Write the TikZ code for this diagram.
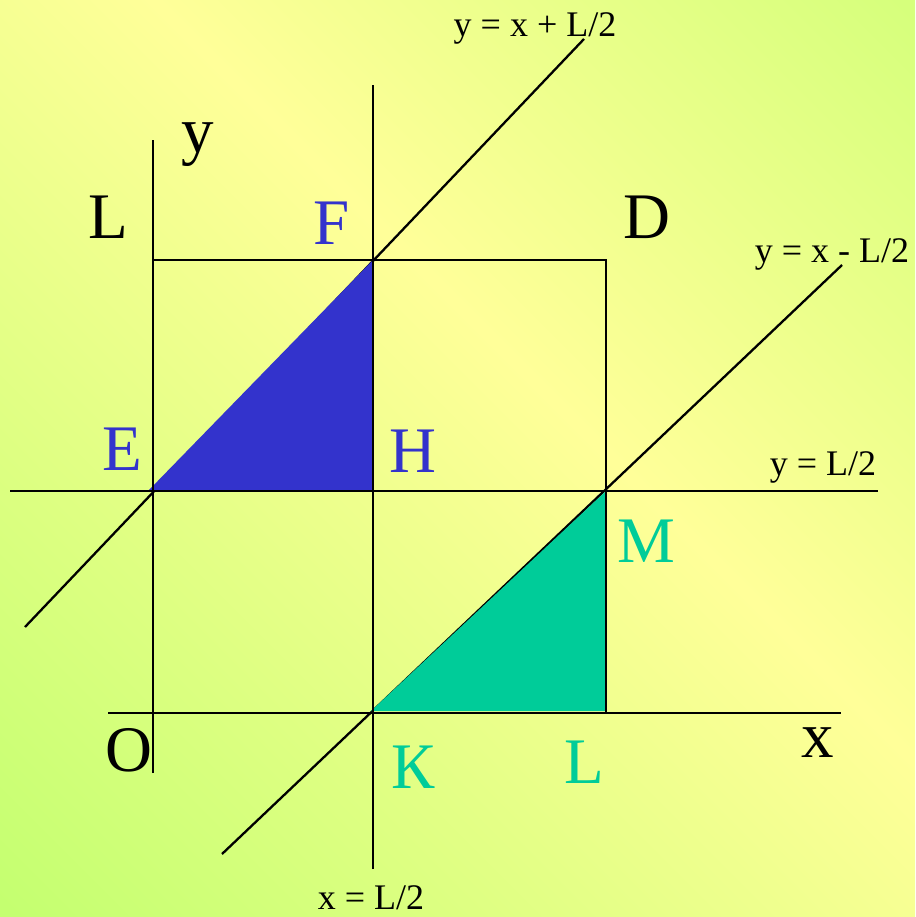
\documentclass[tikz,border=0pt]{standalone}
\usepackage{fontspec}
\setmainfont{Liberation Serif}
\usepackage{xcolor}
\definecolor{BgGreen}{RGB}{196,255,112}
\definecolor{BgYellow}{RGB}{255,255,153}
\definecolor{BgLime}{RGB}{214,255,124}
\definecolor{TriBlue}{RGB}{51,51,204}
\definecolor{TriGreen}{RGB}{0,204,153}
\pgfdeclareverticalshading{bgfade}{100bp}{color(0bp)=(BgGreen); color(15bp)=(BgGreen); color(56bp)=(BgYellow); color(85bp)=(BgLime); color(100bp)=(BgLime)}

\begin{document}
\begin{tikzpicture}[
    x=1pt, y=-1pt,
    ln/.style={line width=2.3pt, color=black},
    big/.style={
        anchor=base,
        inner sep=0pt,
        font=\fontsize{65}{70}\selectfont
    },
    small/.style={
        anchor=base,
        inner sep=0pt,
        font=\fontsize{36}{40}\selectfont
    }
]

% BACKGROUND
\fill[shading=bgfade, shading angle=-45] (0,0) rectangle (915,917);
\useasboundingbox (0,0) rectangle (915,917);

% POINTS
\coordinate (o) at (153,713);
\coordinate (e) at (153,491);
\coordinate (f) at (373,260);
\coordinate (h) at (373,491);
\coordinate (k) at (373,713);
\coordinate (m) at (606,491);
\coordinate (l) at (606,713);
\coordinate (d) at (606,260);
\coordinate (lt) at (153,260);

% LINE ENDS
\coordinate (upA) at (25,627);
\coordinate (upB) at (584,39);
\coordinate (dnA) at (222,854);
\coordinate (dnB) at (842,265);
\coordinate (yax0) at (153,773);
\coordinate (yax1) at (153,140);
\coordinate (xax0) at (108,713);
\coordinate (xax1) at (841,713);
\coordinate (hl0) at (10,491);
\coordinate (hl1) at (878,491);
\coordinate (vl0) at (373,869);
\coordinate (vl1) at (373,85);

% DIAGONALS
\draw[ln] (upA) -- (upB);
\draw[ln] (dnA) -- (dnB);

% TRIANGLES
\fill[TriBlue] (148,491) -- (f) -- (h) -- cycle;
\fill[TriGreen] (371,711) -- (m) -- (606,711) -- cycle;

% AXES AND HALF LINES
\draw[ln] (yax0) -- (yax1);
\draw[ln] (xax0) -- (xax1);
\draw[ln] (hl0) -- (hl1);
\draw[ln] (vl0) -- (vl1);
\draw[ln] (lt) -- (d) -- (l);

% LABELS
\node[big] (ylab) at (198,153) {y};
\node[big] (xlab) at (818,757) {x};
\node[big] (olab) at (129,771) {O};
\node[big] (lylab) at (108,239) {L};
\node[big] (dlab) at (647,238) {D};
\node[big, text=TriBlue] (flab) at (332,244) {F};
\node[big, text=TriBlue] (elab) at (122,470) {E};
\node[big, text=TriBlue] (hlab) at (413,472) {H};
\node[big, text=TriGreen] (mlab) at (646,562) {M};
\node[big, text=TriGreen] (klab) at (413,788) {К};
\node[big, text=TriGreen] (lxlab) at (584,783) {L};

\node[small] (uplab) at (535,37) {y = x + L/2};
\node[small] (dnlab) at (832,262) {y = x - L/2};
\node[small] (hllab) at (823,475) {y = L/2};
\node[small] (vllab) at (371,909) {x = L/2};

\end{tikzpicture}
\end{document}
